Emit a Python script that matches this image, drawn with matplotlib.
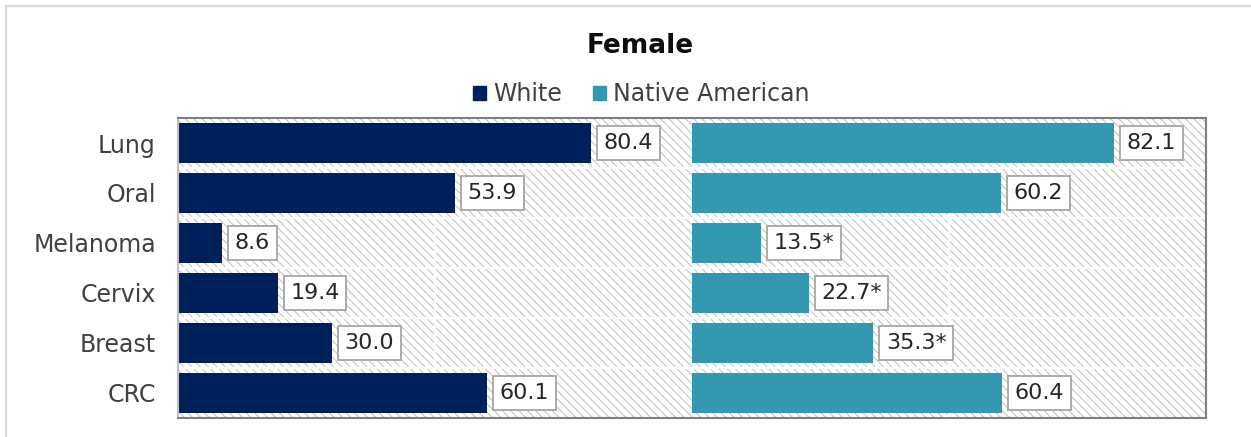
import matplotlib
matplotlib.use("Agg")
import matplotlib.pyplot as plt
from matplotlib.patches import Rectangle
import numpy as np

# Chart data
categories = ["Lung", "Oral", "Melanoma", "Cervix", "Breast", "CRC"]
white_vals = [80.4, 53.9, 8.6, 19.4, 30.0, 60.1]
native_vals = [82.1, 60.2, 13.5, 22.7, 35.3, 60.4]
white_labels = ["80.4", "53.9", "8.6", "19.4", "30.0", "60.1"]
native_labels = ["82.1", "60.2", "13.5*", "22.7*", "35.3*", "60.4"]
series_names = ["White", "Native American"]

NAVY = "#00205c"
TEAL = "#3399b0"
FRAME = "#7f7f7f"
TXT = "#404040"

plt.rcParams["font.family"] = ["DejaVu Sans"]
plt.rcParams["hatch.linewidth"] = 0.7

W_PX, H_PX = 1251, 437
fig = plt.figure(figsize=(W_PX / 100, H_PX / 100), dpi=100)

# light outer chart border (top/left visible only)
fig.patches.append(Rectangle((5.5 / W_PX, -0.1), 1.2, 1 - 5.5 / H_PX + 0.1,
                             transform=fig.transFigure, fill=False,
                             edgecolor="#d9d9d9", lw=1.6))

bottom = (H_PX - 418) / H_PX
height = 300 / H_PX
ax1 = fig.add_axes([178 / W_PX, bottom, 514 / W_PX, height])
ax2 = fig.add_axes([692 / W_PX, bottom, 514 / W_PX, height])

y = np.arange(len(categories))

for ax, vals, labels, color in [(ax1, white_vals, white_labels, NAVY),
                                (ax2, native_vals, native_labels, TEAL)]:
    ax.set_xlim(0, 100)
    ax.set_ylim(len(categories) - 0.5, -0.5)
    # hatched plot background
    ax.add_patch(Rectangle((0, 0), 1, 1, transform=ax.transAxes,
                           facecolor="white", edgecolor="#bdbdbd",
                           hatch="\\\\\\\\", lw=0, zorder=0))
    ax.axvline(50, color="white", lw=1.6, zorder=1)
    for b in y[:-1] + 0.5:
        ax.axhline(b, color="white", lw=1.6, zorder=1)
    ax.barh(y, vals, height=0.8, color=color, zorder=2)
    for yi, v, lab in zip(y, vals, labels):
        ax.annotate(lab, (v, yi), xytext=(9, 0), textcoords="offset points",
                    ha="left", va="center", fontsize=16, color="#262626",
                    zorder=3,
                    bbox=dict(boxstyle="square,pad=0.3", facecolor="white",
                              edgecolor="#a6a6a6", lw=1.3))
    ax.set_xticks([])
    for s in ax.spines.values():
        s.set_color(FRAME)
        s.set_linewidth(1.5)

ax1.set_yticks(y)
ax1.set_yticklabels(categories, fontsize=17, color=TXT)
ax1.tick_params(axis="y", length=0, pad=16)
ax1.spines["right"].set_visible(False)
ax1.spines["left"].set_color("#c0c0c0")
ax2.set_yticks([])
ax2.spines["left"].set_visible(False)

fig.text(640 / W_PX, 1 - 46 / H_PX, "Female", ha="center", va="center",
         fontsize=19, fontweight="bold", color="#0d0d0d")

handles = [Rectangle((0, 0), 1, 1, color=NAVY), Rectangle((0, 0), 1, 1, color=TEAL)]
fig.legend(handles, series_names, loc="center", ncol=2,
           bbox_to_anchor=(641 / W_PX, 1 - 94 / H_PX), frameon=False,
           fontsize=17, handlelength=0.55, handleheight=0.55,
           handletextpad=0.3, columnspacing=1.3, labelcolor=TXT)

fig.savefig("out.png", dpi=100)
